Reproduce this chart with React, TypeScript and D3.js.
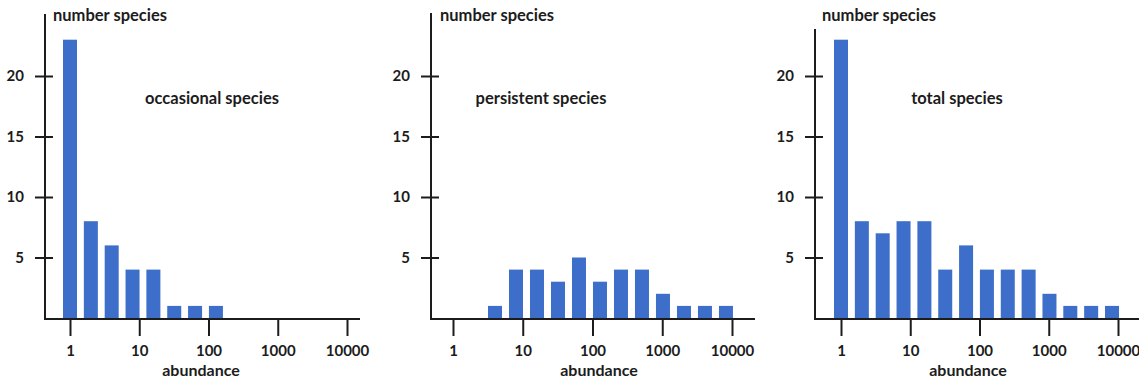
import React, { Component } from 'react';
import * as d3 from 'd3';

// abundance classes (log2 bins) and species counts
const bins = [1, 2, 4, 8, 16, 32, 64, 128, 256, 512, 1024, 2048, 4096, 8192];
const occasional = [23, 8, 6, 4, 4, 1, 1, 1, 0, 0, 0, 0, 0, 0];
const persistent = [0, 0, 1, 4, 4, 3, 5, 3, 4, 4, 2, 1, 1, 1];
const total = [23, 8, 7, 8, 8, 4, 6, 4, 4, 4, 2, 1, 1, 1];

const xTicks = [1, 10, 100, 1000, 10000];
const yTicks = [5, 10, 15, 20];
const panelTitles = ['occasional species', 'persistent species', 'total species'];
const yLabel = 'number species';
const xLabel = 'abundance';

const barColor = '#3d6ec9';
const ink = '#1c1c1c';
const font = 'Lato, "Open Sans", sans-serif';

// layout of the three panels, in page pixels
const panels = [
    { values: occasional, title: panelTitles[0], axisX: 45, x0: 70, x1: 347, lineEnd: 360, top: 14, yLab: 53, titleX: 212, absX: 201 },
    { values: persistent, title: panelTitles[1], axisX: 431, x0: 453, x1: 732, lineEnd: 755, top: 13, yLab: 440, titleX: 541, absX: 599 },
    { values: total, title: panelTitles[2], axisX: 815, x0: 841, x1: 1118, lineEnd: 1139, top: 29, yLab: 822, titleX: 957, absX: 968 }
];

class SpeciesCharts extends Component {

    constructor(props) {
        super(props);
        this.chRef = React.createRef();
    }

    componentDidMount() {
        var width = 1139, height = 381;
        var base = 319;

        var root = d3.select(this.chRef.current);
        root.selectAll('*').remove();

        var svg = root.append('svg')
            .attr('width', width)
            .attr('height', height)
            .style('display', 'block')
            .style('font-family', font)
            .style('font-weight', 700);

        var y = d3.scaleLinear()
            .domain([0, 20])
            .range([318, 76]);

        panels.forEach(function(p) {
            var g = svg.append('g');

            var x = d3.scaleLog()
                .domain([1, 10000])
                .range([p.x0, p.x1]);

            // bars
            g.selectAll('rect')
                .data(bins.map(function(b, i) { return { bin: b, value: p.values[i] }; }).filter(function(d) { return d.value > 0; }))
                .enter()
                .append('rect')
                .attr('x', function(d) { return x(d.bin) - 7; })
                .attr('y', function(d) { return y(d.value); })
                .attr('width', 14)
                .attr('height', function(d) { return base - y(d.value); })
                .attr('fill', barColor);

            // x axis
            var xa = g.append('g')
                .attr('transform', 'translate(0,' + base + ')')
                .call(d3.axisBottom(x).tickValues(xTicks).tickSize(17).tickPadding(9).tickFormat(d3.format('d')));
            xa.select('.domain').remove();
            xa.selectAll('line').attr('stroke', ink).attr('stroke-width', 2);
            xa.selectAll('text')
                .attr('fill', ink)
                .style('font-family', font)
                .style('font-size', '15px')
                .style('font-weight', 700);

            g.append('line')
                .attr('x1', p.axisX).attr('x2', p.lineEnd)
                .attr('y1', base).attr('y2', base)
                .attr('stroke', ink).attr('stroke-width', 2);

            // y axis
            var ya = g.append('g')
                .attr('transform', 'translate(' + p.axisX + ',0)')
                .call(d3.axisLeft(y).tickValues(yTicks).tickSize(0).tickPadding(21));
            ya.select('.domain').remove();
            ya.selectAll('text')
                .attr('fill', ink)
                .style('font-family', font)
                .style('font-size', '15px')
                .style('font-weight', 700);
            ya.selectAll('.tick')
                .append('line')
                .attr('x1', -10).attr('x2', 8)
                .attr('stroke', ink).attr('stroke-width', 2);

            g.append('line')
                .attr('x1', p.axisX).attr('x2', p.axisX)
                .attr('y1', p.top).attr('y2', base + 1)
                .attr('stroke', ink).attr('stroke-width', 2);

            // labels
            g.append('text')
                .attr('x', p.yLab).attr('y', 21)
                .attr('fill', ink)
                .style('font-size', '16.5px')
                .text(yLabel);

            g.append('text')
                .attr('x', p.titleX).attr('y', 104)
                .attr('text-anchor', 'middle')
                .attr('fill', ink)
                .style('font-size', '16.5px')
                .text(p.title);

            g.append('text')
                .attr('x', p.absX).attr('y', 376)
                .attr('text-anchor', 'middle')
                .attr('fill', ink)
                .style('font-size', '16px')
                .text(xLabel);
        });
    }

    render() {
        return <div ref={this.chRef} />;
    }
}

export default function App() {
    return (
        <div style={{ position: 'absolute', left: 0, top: 0 }}>
            <style>{'body { margin: 0; background: #fff; }'}</style>
            <SpeciesCharts />
        </div>
    );
}
